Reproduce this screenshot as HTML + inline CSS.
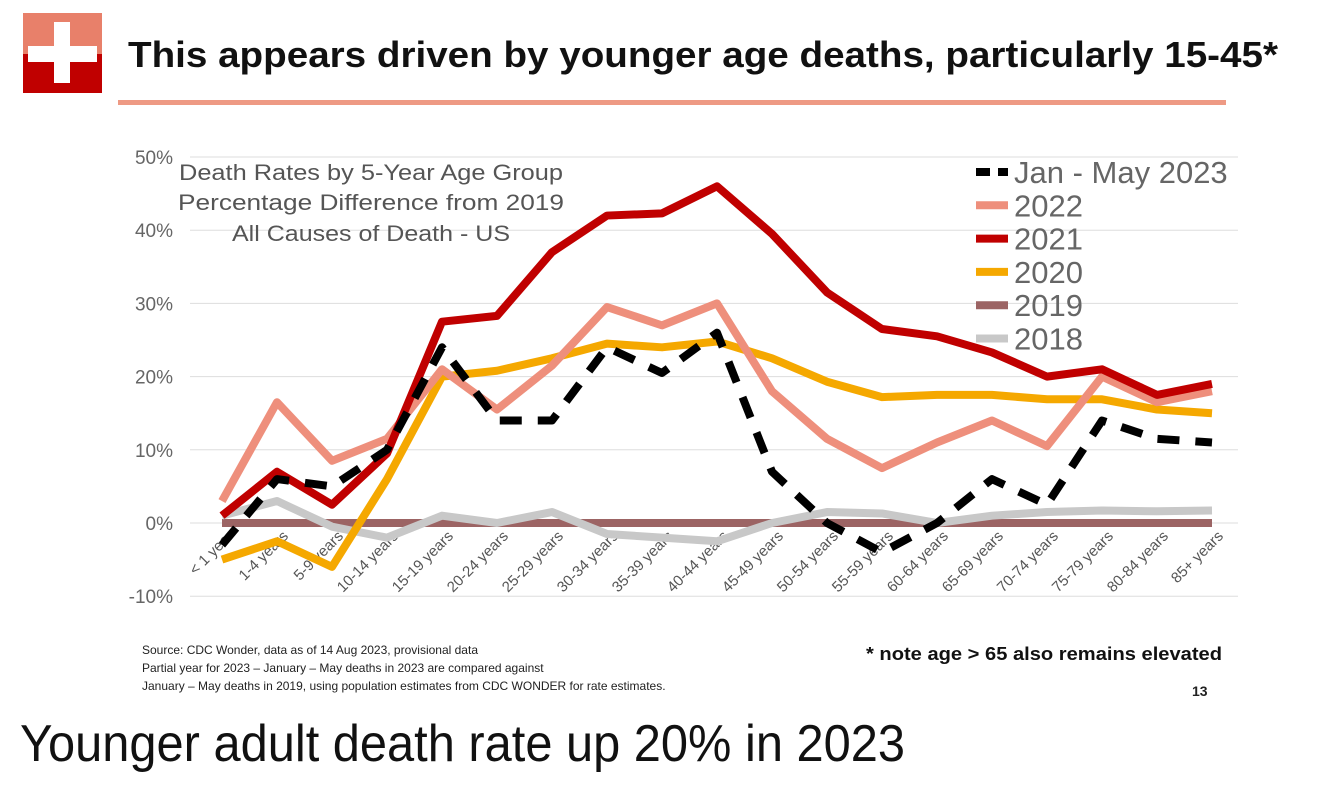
<!DOCTYPE html>
<html><head><meta charset="utf-8"><style>
body{margin:0;background:#fff}
svg{display:block;font-family:"Liberation Sans",sans-serif}
</style></head><body>
<svg id="c" width="1326" height="796" viewBox="0 0 1326 796" xmlns="http://www.w3.org/2000/svg">
<g>
<rect x="23" y="13" width="79" height="41" fill="#e8806a"/>
<rect x="23" y="54" width="79" height="39" fill="#c00000"/>
<rect x="54" y="22" width="16" height="61" fill="#fff"/>
<rect x="28" y="46" width="69" height="16" fill="#fff"/>
</g>
<text x="128" y="67" font-size="36" font-weight="bold" fill="#111" textLength="1150" lengthAdjust="spacingAndGlyphs">This appears driven by younger age deaths, particularly 15-45*</text>
<rect x="118" y="100" width="1108" height="5" fill="#ee9a84"/>
<g id="grid"></g>
<g id="series"></g>
<g font-size="22" fill="#555" text-anchor="middle">
<text x="371" y="180" textLength="384" lengthAdjust="spacingAndGlyphs">Death Rates by 5-Year Age Group</text>
<text x="371" y="210" textLength="386" lengthAdjust="spacingAndGlyphs">Percentage Difference from 2019</text>
<text x="371" y="241" textLength="278" lengthAdjust="spacingAndGlyphs">All Causes of Death - US</text>
</g>
<g id="legend"></g>
<g font-size="12" fill="#222">
<text x="142" y="654">Source: CDC Wonder, data as of 14 Aug 2023, provisional data</text>
<text x="142" y="672">Partial year for 2023 – January – May deaths in 2023 are compared against</text>
<text x="142" y="690">January – May deaths in 2019, using population estimates from CDC WONDER for rate estimates.</text>
</g>
<text x="866" y="660" font-size="18" font-weight="bold" fill="#111" textLength="356" lengthAdjust="spacingAndGlyphs">* note age &gt; 65 also remains elevated</text>
<text x="1192" y="696" font-size="14" font-weight="bold" fill="#222">13</text>
<text x="20" y="761" font-size="52" fill="#111" textLength="885" lengthAdjust="spacingAndGlyphs">Younger adult death rate up 20% in 2023</text>
</svg>
<script>
const categories=["< 1 year","1-4 years","5-9 years","10-14 years","15-19 years","20-24 years","25-29 years","30-34 years","35-39 years","40-44 years","45-49 years","50-54 years","55-59 years","60-64 years","65-69 years","70-74 years","75-79 years","80-84 years","85+ years"];
const yTicks=[-10,0,10,20,30,40,50];
const s2023=[-3,6,5,10,24,14,14,24,20.5,26,7,0,-4,0,6,2.5,14,11.5,11];
const s2022=[3,16.5,8.5,11.5,21,15.5,21.5,29.5,27,30,18,11.5,7.5,11,14,10.5,20,16.5,18];
const s2021=[1,7,2.5,9.5,27.5,28.3,37,42,42.3,46,39.5,31.5,26.5,25.5,23.3,20,21,17.5,19];
const s2020=[-5,-2.5,-6,6,20,20.8,22.5,24.5,24,24.8,22.5,19.3,17.2,17.5,17.5,16.9,16.9,15.5,15];
const s2019=[0,0,0,0,0,0,0,0,0,0,0,0,0,0,0,0,0,0,0];
const s2018=[1,3,-0.5,-2,1,0,1.5,-1.5,-2,-2.5,0,1.5,1.3,0,1,1.5,1.7,1.6,1.7];
const NS="http://www.w3.org/2000/svg";
const X=i=>222+i*(1212-222)/(categories.length-1);
const Y=v=>523-v*7.32;
function mk(t,a,p){const e=document.createElementNS(NS,t);for(const k in a)e.setAttribute(k,a[k]);p.appendChild(e);return e;}
const grid=document.getElementById('grid');
yTicks.forEach(t=>{
 const l=mk('line',{x1:190,x2:1238,y1:Y(t),y2:Y(t),stroke:'#ddd','stroke-width':1},grid);
 
 
 const tx=mk('text',{x:173,y:Y(t)+7,'font-size':19,fill:'#666','text-anchor':'end'},grid);
 tx.textContent=t+'%';
 
 
});
categories.forEach((c,i)=>{
 const tx=mk('text',{transform:`translate(${X(i)+12},537) rotate(-45)`,'font-size':15,fill:'#555','text-anchor':'end'},grid);
 tx.textContent=c;
 
 
});
const series=[
 {name:'2019',d:s2019,c:'#9c6464',dash:null},
 {name:'2018',d:s2018,c:'#c8c8c8',dash:null},
 {name:'2020',d:s2020,c:'#f5a800',dash:null},
 {name:'2022',d:s2022,c:'#ee8f7c',dash:null},
 {name:'2021',d:s2021,c:'#c00000',dash:null},
 {name:'Jan - May 2023',d:s2023,c:'#000',dash:'22 16'}
];
const sg=document.getElementById('series');
series.forEach(s=>{
 const a={points:s.d.map((v,i)=>X(i)+','+Y(v)).join(' '),fill:'none',stroke:s.c,'stroke-width':8,'stroke-linejoin':'round'};
 if(s.dash)a['stroke-dasharray']=s.dash;
 const p=mk('polyline',a,sg);
 
 
});
const legendOrder=['Jan - May 2023','2022','2021','2020','2019','2018'];
const lg=document.getElementById('legend');
legendOrder.forEach((n,k)=>{
 const s=series.find(q=>q.name===n);
 const y=172+k*33.3;
 const a={x1:976,x2:1008,y1:y,y2:y,stroke:s.c,'stroke-width':8};
 if(s.dash)a['stroke-dasharray']='14 8';
 const l=mk('line',a,lg);
 
 
 const t=mk('text',{x:1014,y:y+11,'font-size':31,fill:'#666'},lg);
 t.textContent=n;
 
 
});
</script>
</body></html>
